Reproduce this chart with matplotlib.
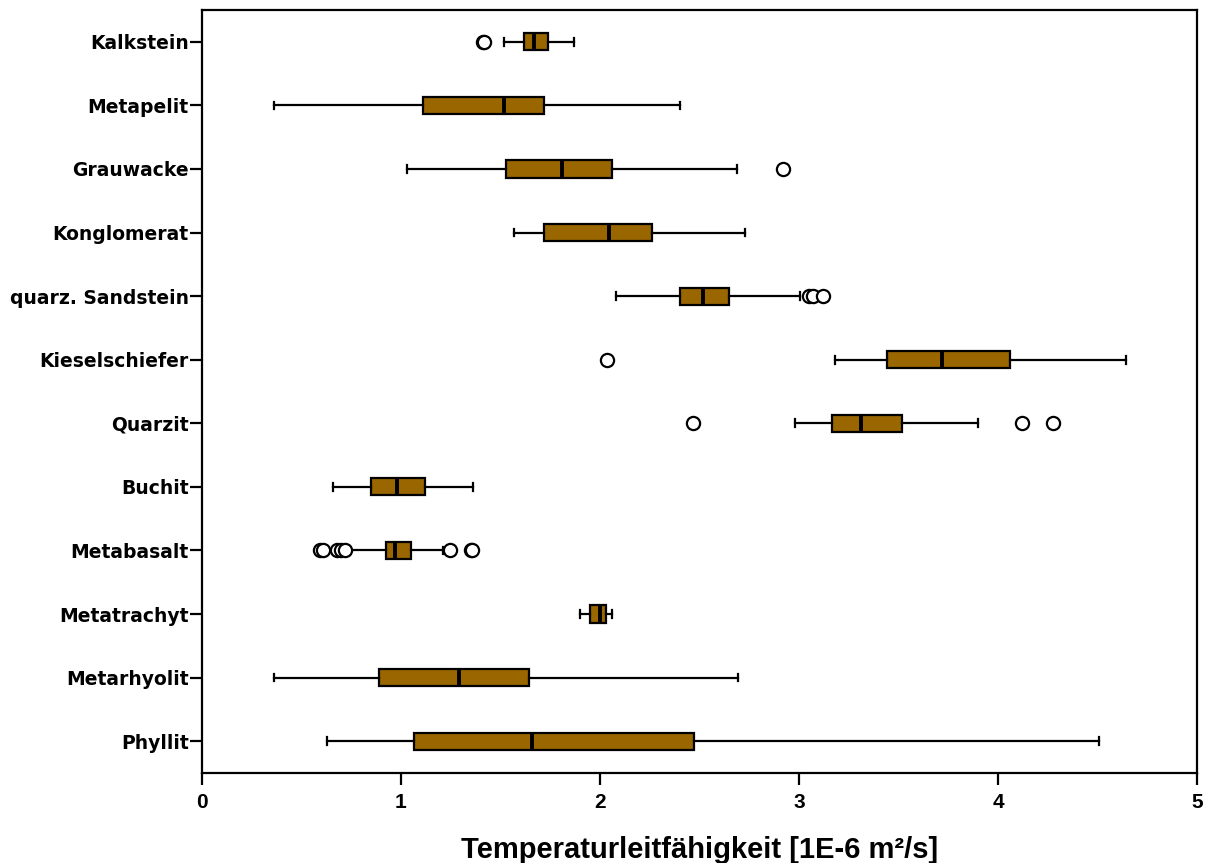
import matplotlib
matplotlib.use("Agg")
import matplotlib.pyplot as plt

labels = ["Kalkstein", "Metapelit", "Grauwacke", "Konglomerat", "quarz. Sandstein",
          "Kieselschiefer", "Quarzit", "Buchit", "Metabasalt", "Metatrachyt",
          "Metarhyolit", "Phyllit"]

whislo = [1.52, 0.36, 1.03, 1.57, 2.08, 3.18, 2.98, 0.66, 0.74, 1.90, 0.36, 0.63]
q1 = [1.62, 1.11, 1.53, 1.72, 2.40, 3.44, 3.165, 0.85, 0.925, 1.95, 0.89, 1.065]
med = [1.67, 1.52, 1.81, 2.045, 2.52, 3.72, 3.31, 0.98, 0.97, 2.00, 1.29, 1.66]
q3 = [1.74, 1.72, 2.06, 2.26, 2.65, 4.06, 3.52, 1.12, 1.05, 2.03, 1.645, 2.47]
whishi = [1.87, 2.40, 2.69, 2.73, 3.005, 4.645, 3.90, 1.36, 1.21, 2.06, 2.695, 4.51]
fliers = [[1.41, 1.415], [], [2.92], [], [3.05, 3.07, 3.12], [2.035],
          [2.465, 4.12, 4.275], [], [0.595, 0.61, 0.68, 0.70, 0.72, 1.245, 1.35, 1.355],
          [], [], []]

stats = []
for i in range(len(labels)):
    stats.append(dict(label=labels[i], whislo=whislo[i], q1=q1[i], med=med[i],
                      q3=q3[i], whishi=whishi[i], fliers=fliers[i]))

fig = plt.figure(figsize=(12.11, 8.63), dpi=100)
ax = fig.add_axes([202 / 1211, 1 - 773 / 863, 995 / 1211, 763 / 863])

ax.bxp(stats, positions=range(len(labels)), vert=False, widths=0.27,
       capwidths=0.12, patch_artist=True,
       boxprops=dict(facecolor="#996600", edgecolor="black", linewidth=1.6),
       medianprops=dict(color="black", linewidth=2.8),
       whiskerprops=dict(color="black", linewidth=1.6),
       capprops=dict(color="black", linewidth=1.6),
       flierprops=dict(marker="o", markerfacecolor="white", markeredgecolor="black",
                       markersize=9.5, markeredgewidth=1.6))

ax.set_xlim(0, 5)
ax.set_ylim(len(labels) - 0.5, -0.5)
ax.set_xticks(range(6))
ax.set_yticks(range(len(labels)))
ax.set_yticklabels(labels, fontsize=13.5, fontweight="bold", family=["DejaVu Sans"])
for t in ax.get_xticklabels():
    t.set_fontsize(15)
    t.set_fontweight("bold")
    t.set_family(["Liberation Sans Narrow", "Liberation Sans"])

ax.tick_params(axis="both", direction="out", length=8.5, width=1.6, pad=1)
ax.tick_params(axis="x", pad=6)
for s in ax.spines.values():
    s.set_linewidth(1.6)

ax.set_xlabel("Temperaturleitfähigkeit [1E-6 m²/s]", fontsize=21, fontweight="bold",
              family=["Liberation Sans Narrow", "Liberation Sans"], labelpad=17)

fig.savefig("out.png", dpi=100)
